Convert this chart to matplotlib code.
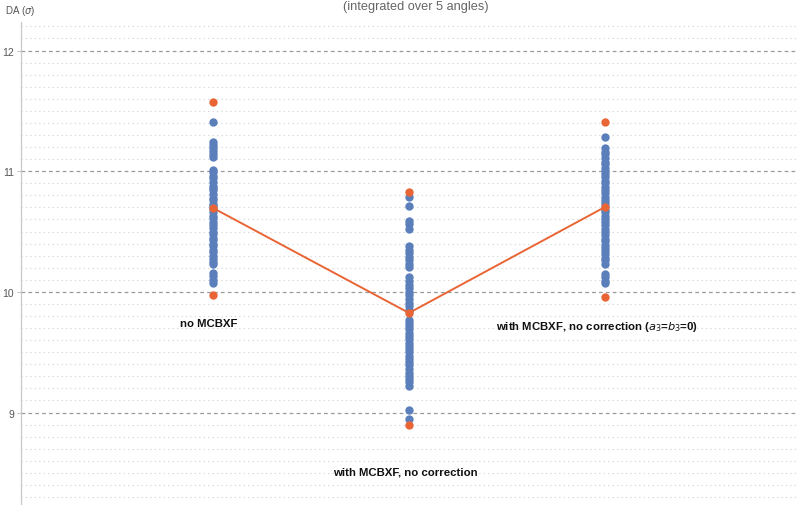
import matplotlib
matplotlib.use("Agg")
import matplotlib.pyplot as plt
from matplotlib.ticker import MultipleLocator

plt.rcParams['font.family'] = ['Liberation Sans', 'DejaVu Sans']

# Configuration labels and their x positions
configs = ["no MCBXF", "with MCBXF, no correction",
           "with MCBXF, no correction ($\\mathit{a}_3$=$\\mathit{b}_3$=0)"]
positions = [1, 2, 3]

# Dynamic aperture per seed (sigma)
da_no_mcbxf = [11.41, 11.24, 11.22, 11.19, 11.17, 11.14, 11.12,
               11.01, 10.99, 10.96, 10.94, 10.91, 10.88, 10.86, 10.84, 10.81,
               10.78, 10.76, 10.73, 10.71, 10.69, 10.66, 10.63, 10.61, 10.58,
               10.55, 10.53, 10.50, 10.48, 10.45, 10.43, 10.40, 10.38, 10.35,
               10.33, 10.30, 10.27, 10.25, 10.23, 10.16, 10.13, 10.10, 10.07]
da_mcbxf = [10.79, 10.71, 10.59, 10.56, 10.52, 10.38, 10.35, 10.32, 10.29,
            10.26, 10.23, 10.21, 10.12, 10.09, 10.06, 10.03, 10.00, 9.97,
            9.94, 9.91, 9.88, 9.85, 9.84, 9.77, 9.74, 9.72, 9.69, 9.66, 9.63,
            9.61, 9.58, 9.55, 9.53, 9.50, 9.47, 9.44, 9.42, 9.39, 9.36, 9.33,
            9.30, 9.28, 9.25, 9.22, 9.02, 8.95]
da_mcbxf_a3b3 = [11.28, 11.19, 11.16, 11.14, 11.11, 11.08, 11.06, 11.03,
                 11.00, 10.98, 10.95, 10.92, 10.90, 10.87, 10.84, 10.82,
                 10.79, 10.76, 10.74, 10.71, 10.68, 10.66, 10.63, 10.60,
                 10.58, 10.55, 10.52, 10.50, 10.47, 10.44, 10.42, 10.39,
                 10.36, 10.34, 10.31, 10.28, 10.26, 10.23, 10.15, 10.12,
                 10.09, 10.07]
seeds = [da_no_mcbxf, da_mcbxf, da_mcbxf_a3b3]

# Summary values: max, mean, min
da_max = [11.57, 10.83, 11.41]
da_mean = [10.695, 9.825, 10.703]
da_min = [9.975, 8.895, 9.96]

# Label anchor positions
label_y = [9.74, 8.51, 9.72]
label_x = [0.98, 1.98, 2.96]

blue = "#5B7FBB"
orange = "#EA6535"

fig = plt.figure(figsize=(7.97, 5.06), dpi=100)
ax = fig.add_axes([0.0263, 0.002, 0.9737, 0.9525])

ax.set_xlim(0.02, 3.98)
ax.set_ylim(8.242, 12.236)

ax.yaxis.set_major_locator(MultipleLocator(1))
ax.yaxis.set_minor_locator(MultipleLocator(0.1))
ax.grid(which='major', axis='y', color='#9a9a9a', linestyle=(0, (3, 2.5)), linewidth=0.9)
ax.grid(which='minor', axis='y', color='#d0d0d0', linestyle=(0, (1, 3)), linewidth=0.8)
ax.set_axisbelow(True)

for x, vals in zip(positions, seeds):
    ax.plot([x] * len(vals), vals, 'o', color=blue, markersize=6, markeredgewidth=0, zorder=3)

ax.plot(positions, da_mean, '-', color=orange, linewidth=1.4, zorder=4)
for series in (da_max, da_mean, da_min):
    ax.plot(positions, series, 'o', color=orange, markersize=6, markeredgewidth=0, zorder=5)

for x, y, txt in zip(label_x, label_y, configs):
    ax.text(x, y, txt, ha='center', va='center', fontsize=8.2, fontweight='bold', color='#111111')

for s in ('top', 'right', 'bottom'):
    ax.spines[s].set_visible(False)
ax.spines['left'].set_color('#c8c8c8')
ax.spines['left'].set_linewidth(0.9)

ax.set_xticks([])
ax.tick_params(axis='y', which='major', length=3, color='#c8c8c8', labelsize=7.5, labelcolor='#555555', pad=2)
ax.tick_params(axis='y', which='minor', length=0)

fig.text(0.006, 0.978, "DA ($\\sigma$)", fontsize=7, color='#555555', ha='left', va='center')
fig.text(0.522, 0.999, "(integrated over 5 angles)", fontsize=9.2, color='#666666', ha='center', va='top')

fig.savefig("out.png", dpi=100)
